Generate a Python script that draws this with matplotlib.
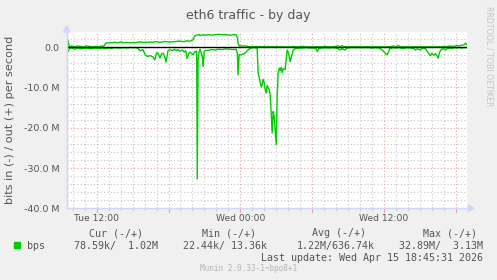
import matplotlib
matplotlib.use("Agg")
import matplotlib.pyplot as plt
from matplotlib.patches import Polygon, Rectangle
from matplotlib.lines import Line2D

# ---- data (hours since Tue 00:00, values in Mbit/s) ----
hours = [9.50, 9.60, 9.70, 9.90, 10.15, 10.40, 10.65, 10.90, 11.15, 11.40, 11.65, 11.90, 12.15, 12.40, 12.60,
         12.75, 13.00, 13.25, 13.50, 13.75, 14.00, 14.25, 14.50, 14.75, 15.00, 15.25,
         15.45, 15.62, 15.85, 16.05, 16.20, 16.46, 16.70, 16.87, 17.00, 17.13, 17.29, 17.42, 17.54, 17.67, 17.79,
         17.96, 18.15, 18.30, 18.50, 18.64, 18.80, 18.96, 19.15, 19.30, 19.45, 19.55, 19.70, 19.80, 19.95, 20.05,
         20.22, 20.31, 20.35, 20.40, 20.47, 20.56, 20.64, 20.73, 20.81, 20.89, 20.98, 21.06,
         21.30, 21.60, 21.90, 22.20, 22.50, 22.80, 23.10, 23.40, 23.65, 23.75, 23.81, 23.90, 24.05, 24.25, 24.40,
         24.60, 24.82, 25.00, 25.15, 25.40, 25.49, 25.57, 25.65, 25.74, 25.82, 25.90, 25.99, 26.08, 26.16, 26.24,
         26.32, 26.41, 26.49, 26.57, 26.66, 26.74, 26.83, 26.91, 27.00, 27.08, 27.16, 27.25, 27.33, 27.42, 27.50,
         27.60, 27.75, 27.83, 27.92, 28.05, 28.17, 28.30, 28.42, 28.60,
         28.90, 29.20, 29.50, 29.80, 30.10, 30.30, 30.43, 30.55, 30.80, 31.10, 31.40, 31.70, 32.00, 32.20, 32.34,
         32.50, 32.65, 32.76, 32.90, 33.20, 33.50, 33.80, 34.10, 34.40, 34.70, 35.00, 35.30, 35.60, 35.80, 35.95,
         36.11, 36.25, 36.36, 36.50, 36.80, 37.00, 37.20, 37.40, 37.60, 37.90, 38.20, 38.50, 38.62, 38.80, 39.04,
         39.20, 39.45, 39.65, 39.87, 40.00, 40.15, 40.30, 40.46, 40.54, 40.65, 40.80, 41.00, 41.13, 41.30, 41.50,
         41.70, 41.90, 42.10, 42.30, 42.50, 42.70, 42.80, 42.90]

out_mbps = [0.2, 1.7, 0.1, 0.3, 0.1, 0.3, 0.2, 0.1, 0.3, 0.2, 0.1, 0.2, 0.1, 0.3, 0.2,
            1.0, 1.1, 1.1, 1.2, 1.1, 1.3, 1.1, 1.2, 1.1, 1.1, 1.1,
            1.3, 1.3, 1.2, 1.2, 1.2, 1.3, 1.2, 1.4, 1.3, 1.3, 1.2, 1.3, 1.3, 1.4, 1.4,
            1.3, 1.3, 1.3, 1.4, 1.4, 1.5, 1.5, 1.4, 1.4, 1.5, 1.6, 1.5, 1.5, 1.7, 1.9,
            2.9, 3.0, 3.0, 3.0, 3.1, 3.1, 2.9, 3.0, 3.0, 3.1, 3.0, 3.0,
            3.1, 3.0, 3.1, 3.2, 3.1, 3.1, 3.0, 3.1, 3.1, 2.5, 1.0, 0.3, 0.3, 0.3, 0.3,
            0.2, 0.1, 0.2, 0.1, 0.2, 0.1, 0.1, 0.2, 0.1, 0.1, 0.1, 0.2, 0.1, 0.1, 0.1,
            0.2, 0.1, 0.1, 0.1, 0.2, 0.1, 0.1, 0.1, 0.2, 0.1, 0.1, 0.1, 0.1, 0.2, 0.1,
            0.1, 0.1, 0.1, 0.1, 0.1, 0.1, 0.1, 0.2, 0.1,
            0.1, 0.2, 0.1, 0.1, 0.1, 0.1, 0.1, 0.1, 0.1, 0.2, 0.1, 0.1, 0.2, 0.3, 0.1,
            0.4, 0.1, 0.2, 0.1, 0.1, 0.1, 0.1, 0.1, 0.1, 0.1, 0.1, 0.1, 0.1, 0.1, 0.1,
            0.1, 0.1, 0.1, 0.1, 0.3, 0.1, 0.4, 0.1, 0.1, 0.1, 0.1, 0.1, 0.1, 0.1, 0.1,
            0.1, 0.1, 0.1, 0.1, 0.1, 0.1, 0.1, 0.1, 0.1, 0.1, 0.1, 0.2, 0.1, 0.2, 0.3,
            0.2, 0.3, 0.4, 0.3, 0.5, 0.6, 1.0, 0.7]

in_mbps = [0.3, 1.1, 0.4, 0.2, 0.5, 0.2, 0.4, 0.3, 0.2, 0.4, 0.3, 0.2, 0.3, 0.2, 0.3,
           0.3, 0.2, 0.3, 0.1, 0.2, 0.2, 0.1, 0.2, 0.1, 0.1, 0.1,
           0.3, 0.9, 0.6, 1.8, 2.3, 2.1, 2.4, 3.1, 1.4, 1.5, 2.7, 1.6, 1.5, 2.2, 3.7,
           0.8, 0.6, 0.9, 0.5, 0.8, 0.6, 1.0, 0.7, 1.2, 0.9, 2.8, 1.6, 1.2, 1.6, 1.9,
           1.0, 1.2, 1.0, 32.7, 3.0, 1.0, 0.5, 1.5, 2.0, 4.8, 1.0, 0.8,
           0.8, 0.6, 0.7, 0.5, 0.6, 0.4, 0.5, 0.6, 0.5, 1.5, 6.9, 1.8, 1.9, 1.7, 1.5,
           0.8, 0.3, 0.1, 0.1, 0.2, 6.4, 7.5, 8.5, 9.8, 9.4, 8.0, 8.8, 10.5, 11.4, 9.5,
           10.0, 10.5, 11.8, 16.0, 21.3, 16.0, 17.3, 20.5, 24.2, 12.0, 6.4, 5.2, 5.8, 5.0, 6.3,
           5.3, 5.5, 3.0, 0.7, 1.8, 3.6, 2.0, 0.7, 0.3,
           0.2, 0.2, 0.1, 0.2, 0.2, 0.3, 1.1, 0.3, 0.2, 0.1, 0.2, 0.1, 0.2, 0.4, 0.7,
           0.3, 0.6, 0.7, 0.2, 0.1, 0.1, 0.1, 0.1, 0.1, 0.1, 0.2, 0.1, 0.2, 0.6, 1.0,
           1.5, 1.9, 1.3, 0.3, 0.1, 0.2, 0.1, 0.2, 0.3, 0.1, 0.2, 0.3, 0.7, 0.4, 0.7,
           0.2, 0.3, 1.2, 2.1, 1.5, 2.0, 1.6, 2.3, 2.7, 1.2, 0.5, 0.4, 0.7, 0.3, 0.2,
           0.3, 0.1, 0.2, 0.1, 0.2, 0.1, 0.1, 0.1]

y_ticks = [0, -10, -20, -30, -40]
y_tick_labels = ["0.0", "-10.0 M", "-20.0 M", "-30.0 M", "-40.0 M"]
x_ticks = [12, 24, 36]
x_tick_labels = ["Tue 12:00", "Wed 00:00", "Wed 12:00"]
legend_headers = ["Cur (-/+)", "Min (-/+)", "Avg (-/+)", "Max (-/+)"]
legend_values = ["78.59k/  1.02M", "22.44k/ 13.36k", "1.22M/636.74k", "32.89M/  3.13M"]
series_name = "bps"
title = "eth6 traffic - by day"
y_label = "bits in (-) / out (+) per second"
last_update = "Last update: Wed Apr 15 18:45:31 2026"
footer = "Munin 2.0.33-1~bpo8+1"
side_text = "RRDTOOL / TOBI OETIKER"

# ---- layout ----
W, H = 497, 280
BG = "#f0f0f0"
GREEN = "#00cc00"
AXIS = "#cfd6f8"
TXT = "#555555"
MINOR = "#c8c8c8"
MAJOR = "#f0a0a0"

def fx(px):
    return px / W

def fy(py):
    return 1 - py / H

L, R, T, B = 66.7, 467.0, 32.3, 208.3
fig = plt.figure(figsize=(W / 100, H / 100), dpi=100, facecolor=BG)
ax = fig.add_axes([fx(L), fy(B), fx(R) - fx(L), fy(T) - fy(B)])
ax.set_facecolor("white")
XMIN = 12 + (L - 96.7) / 11.97
XMAX = 12 + (R - 96.7) / 11.97
YMIN, YMAX = -40.0, 3.7
ax.set_xlim(XMIN, XMAX)
ax.set_ylim(YMIN, YMAX)
for s in ax.spines.values():
    s.set_visible(False)

dots = (0, (1, 2))
# minor grid
h = 10
while h < XMAX:
    if h % 6 != 0:
        ax.axvline(h, color=MINOR, lw=0.8, ls=dots, zorder=1)
        ax.plot([h, h], [YMIN - 0.5, YMIN], color=MINOR, lw=0.8, clip_on=False, zorder=1)
    h += 1
for v in range(-38, 4, 2):
    if v % 10 != 0:
        ax.axhline(v, color=MINOR, lw=0.8, ls=dots, zorder=1)
# major grid
for h in range(12, 43, 6):
    ax.axvline(h, color=MAJOR, lw=0.8, ls=dots, zorder=1)
    ax.plot([h, h], [YMIN - 0.8, YMIN], color=MAJOR, lw=0.8, clip_on=False, zorder=1)
for v in [-10, -20, -30]:
    ax.axhline(v, color=MAJOR, lw=0.8, ls=dots, zorder=1)

# series
neg_in = [-v for v in in_mbps]
ax.plot(hours, out_mbps, color=GREEN, lw=1.0, zorder=3)
ax.plot(hours, neg_in, color=GREEN, lw=1.0, zorder=3)
ax.axhline(0, color="black", lw=1.0, zorder=4)

# ticks / labels
ax.set_yticks(y_ticks)
ax.set_yticklabels(y_tick_labels)
ax.set_xticks(x_ticks)
ax.set_xticklabels(x_tick_labels)
ax.tick_params(axis="y", length=0, pad=5.3, labelsize=6.8, labelcolor=TXT)
ax.tick_params(axis="x", length=0, pad=4.0, labelsize=6.6, labelcolor=TXT)

# axes lines with arrows
fig.add_artist(Line2D([fx(L), fx(L)], [fy(B), fy(28)], color=AXIS, lw=1.0))
fig.add_artist(Line2D([fx(L), fx(470)], [fy(B), fy(B)], color=AXIS, lw=1.0))
fig.add_artist(Polygon([[fx(63.7), fy(32)], [fx(69.7), fy(32)], [fx(66.7), fy(25.5)]],
                       closed=True, color=AXIS, transform=fig.transFigure))
fig.add_artist(Polygon([[fx(468.5), fy(205)], [fx(468.5), fy(211.5)], [fx(474), fy(208.3)]],
                       closed=True, color=AXIS, transform=fig.transFigure))

# texts
fig.text(fx(248), fy(18.5), title, ha="center", va="baseline", fontsize=9.0, color=TXT)
fig.text(fx(10), fy(119.5), y_label, ha="center", va="center", rotation=90, fontsize=8.1, color=TXT)
fig.text(fx(489), fy(56.5), side_text, ha="center", va="center", rotation=270, fontsize=5.7, color="#c4c4c4")

mono = "DejaVu Sans Mono"
for x, t in zip([116, 228.7, 338.8, 450], legend_headers):
    fig.text(fx(x), fy(233), t, ha="center", va="center", fontsize=7.2, family=mono, color=TXT)
fig.add_artist(Rectangle((fx(14), fy(248.3)), fx(6), 6 / H, color=GREEN, transform=fig.transFigure))
fig.text(fx(26.7), fy(245.8), series_name, ha="left", va="center", fontsize=7.2, family=mono, color=TXT)
for x, t in zip([157.7, 266.7, 375, 482.7], legend_values):
    fig.text(fx(x), fy(245.8), t, ha="right", va="center", fontsize=7.2, family=mono, color=TXT)
fig.text(fx(483.3), fy(257.7), last_update, ha="right", va="center", fontsize=7.2, family=mono, color=TXT)
fig.text(fx(248.5), fy(268.8), footer, ha="center", va="center", fontsize=5.6, family=mono, color="#b4b4b4")

fig.savefig("out.png", dpi=100, facecolor=BG)
